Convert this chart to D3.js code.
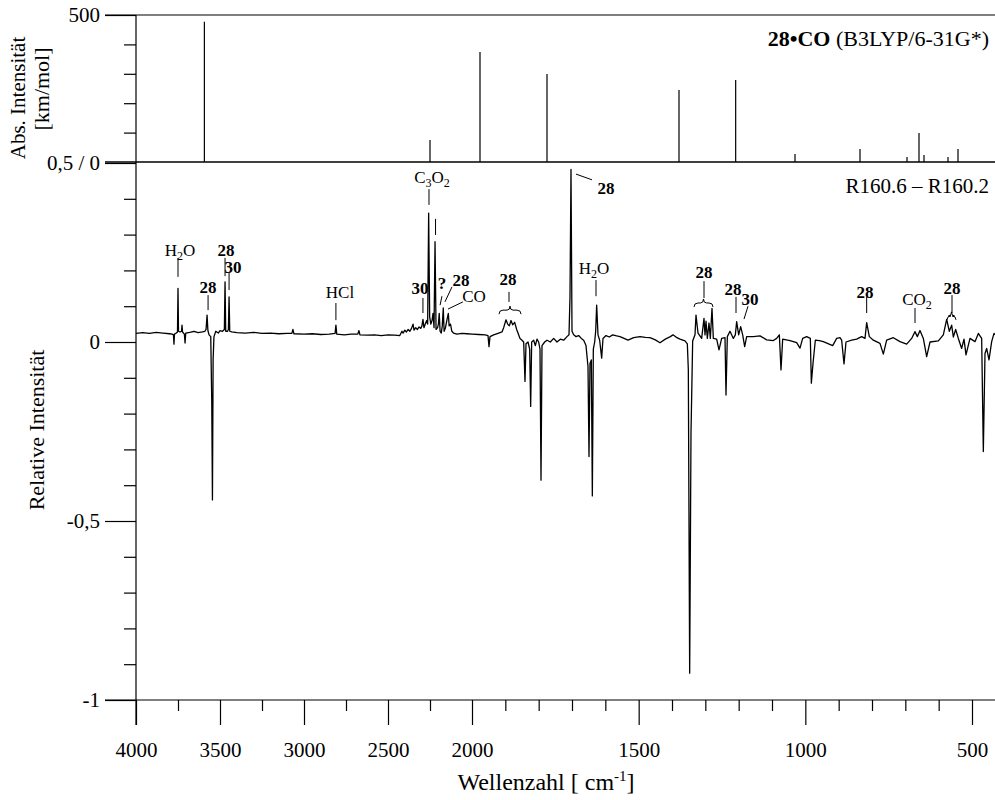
<!DOCTYPE html>
<html>
<head>
<meta charset="utf-8">
<script src="https://cdn.jsdelivr.net/npm/d3@7"></script>
<style>
body { margin: 0; background: #fff; }
svg text { font-family: "Liberation Serif", "DejaVu Serif", "Times New Roman", serif !important; fill: #000; }
</style>
</head>
<body>
<div id="container"></div>
<script>
let w = 995;
let h = 800;

// calculated stick spectrum (upper panel): wavenumber, km/mol
let calcWn  = [3593, 2250, 1976, 1775, 1379, 1209, 1031, 836, 695, 659, 644, 572, 542];
let calcInt = [477, 75, 374, 299, 245, 279, 27, 44, 17, 99, 24, 17, 44];

// difference spectrum (lower panel): [wavenumber, relative intensity]
let diffSpec = [
  [4000, 0.024],[3960, 0.026],[3920, 0.024],[3880, 0.027],[3840, 0.025],[3800, 0.023],[3785, 0.022],
  [3777, 0.02],[3774, -0.006],[3771, 0.022],[3760, 0.025],[3753, 0.028],[3750, 0.15],[3747, 0.03],[3738, 0.028],
  [3729, 0.03],[3726, 0.047],[3723, 0.028],[3712, 0.022],[3708, -0.003],[3704, 0.025],
  [3680, 0.027],[3655, 0.03],[3630, 0.026],[3605, 0.028],[3590, 0.03],[3583, 0.035],[3577, 0.075],[3572, 0.032],[3565, 0.02],
  [3555, 0.015],[3549, -0.17],[3545, -0.441],[3541, -0.05],[3536, 0.015],[3525, 0.03],[3510, 0.025],[3500, 0.032],[3485, 0.03],
  [3474, 0.035],[3470, 0.168],[3466, 0.03],[3455, 0.03],[3450, 0.035],[3446, 0.126],[3442, 0.03],[3430, 0.028],
  [3400, 0.026],[3350, 0.025],[3300, 0.027],[3250, 0.024],[3200, 0.025],[3150, 0.023],[3100, 0.024],[3072, 0.024],[3066, 0.035],[3060, 0.023],
  [3000, 0.022],[2950, 0.023],[2900, 0.021],[2850, 0.022],[2815, 0.024],[2810, 0.047],[2805, 0.022],[2760, 0.02],[2720, 0.022],[2680, 0.022],[2673, 0.032],[2667, 0.02],
  [2620, 0.019],[2580, 0.02],[2540, 0.018],[2500, 0.02],[2460, 0.019],[2430, 0.018],[2417, 0.03],[2410, 0.025],[2400, 0.033],[2390, 0.028],
  [2380, 0.035],[2370, 0.03],[2360, 0.038],[2351, 0.05],[2345, 0.033],[2335, 0.04],[2325, 0.035],[2315, 0.042],[2305, 0.038],[2298, 0.045],
  [2292, 0.063],[2286, 0.04],[2278, 0.05],[2270, 0.06],[2264, 0.05],[2258, 0.36],[2252, 0.07],[2245, 0.05],[2238, 0.06],[2232, 0.08],
  [2226, 0.04],[2220, 0.28],[2214, 0.035],[2205, 0.04],[2200, 0.05],[2195, 0.08],[2190, 0.03],[2183, 0.025],[2177, 0.045],[2171, 0.095],
  [2166, 0.03],[2158, 0.04],[2150, 0.06],[2141, 0.08],[2136, 0.045],[2128, 0.05],[2120, 0.03],[2110, 0.025],[2090, 0.022],[2060, 0.024],
  [2030, 0.023],[2000, 0.022],[1980, 0.021],[1960, 0.02],
  [1952, 0.018],[1949, -0.013],[1946, 0.015],[1935, 0.02],[1920, 0.025],[1910, 0.028],[1905, 0.04],[1898, 0.062],[1893, 0.05],[1888, 0.045],
  [1883, 0.06],[1878, 0.048],[1872, 0.055],[1866, 0.035],[1862, 0.025],[1856, 0.01],[1850, 0.005],[1845, 0.0],[1841, -0.11],[1838, -0.005],
  [1832, 0.0],[1827, -0.02],[1824, -0.18],[1821, 0.0],[1815, 0.005],[1810, -0.01],[1805, 0.008],[1800, 0.0],[1796, -0.02],[1793, -0.386],
  [1790, -0.01],[1782, 0.0],[1775, 0.005],[1765, 0.0],[1755, 0.01],[1745, 0.0],[1735, 0.008],[1725, 0.005],[1715, 0.015],[1709, 0.02],
  [1706, 0.127],[1703, 0.482],[1700, 0.03],[1695, 0.02],[1688, 0.015],[1680, 0.018],[1672, 0.01],[1665, 0.005],[1658, -0.01],[1652, -0.069],
  [1649, -0.32],[1646, -0.06],[1642, -0.05],[1639, -0.43],[1636, -0.02],[1632, 0.0],[1629, 0.03],[1626, 0.103],[1622, 0.02],[1617, 0.005],
  [1611, -0.045],[1607, 0.01],
  [1598, 0.018],[1588, 0.014],[1578, 0.02],[1566, 0.017],[1556, 0.015],[1544, 0.01],[1532, 0.005],[1515, 0.012],[1496, 0.015],[1480, 0.013],
  [1466, 0.012],[1450, 0.006],[1436, -0.002],[1420, 0.008],[1405, 0.015],[1397, 0.02],[1385, 0.012],[1376, 0.008],[1361, 0.003],[1354, -0.005],
  [1351, -0.078],[1347, -0.925],[1343, -0.255],[1338, 0.003],[1331, 0.02],[1328, 0.075],[1322, 0.025],[1311, 0.01],[1304, 0.066],[1301, 0.02],
  [1298, 0.058],[1294, 0.01],[1289, 0.053],[1285, 0.01],[1280, 0.094],[1276, 0.01],[1266, 0.008],[1259, -0.022],[1251, 0.01],[1241, 0.012],
  [1238, -0.148],[1234, 0.015],[1226, 0.03],[1216, 0.01],[1210, 0.02],[1206, 0.057],[1200, 0.02],[1194, 0.043],[1188, 0.02],[1182, -0.013],
  [1176, 0.015],[1156, 0.015],[1136, 0.017],[1116, 0.006],[1096, 0.004],[1086, 0.01],[1078, 0.02],[1073, -0.078],[1068, 0.008],[1046, 0.004],
  [1026, -0.002],[1016, -0.017],[1008, 0.01],[996, 0.015],[985, 0.01],[982, -0.115],[977, -0.06],[970, 0.005],[958, 0.004],[946, 0.001],
  [918, -0.01],[906, 0.01],[896, 0.012],[891, 0.005],[884, -0.061],[878, 0.0],[861, 0.005],[846, 0.008],[831, 0.015],[821, 0.01],
  [816, 0.054],[808, 0.015],[796, 0.005],[776, -0.004],[766, -0.034],[756, 0.005],[736, 0.012],[716, 0.001],[696, -0.006],[681, 0.01],
  [671, 0.029],[664, 0.015],[656, 0.032],[646, 0.01],[636, -0.041],[626, 0.0],[601, 0.003],[586, 0.02],[576, 0.063],[568, 0.03],
  [561, 0.047],[556, 0.014],[549, 0.035],[541, 0.01],[531, -0.018],[524, 0.008],[518, -0.036],[506, 0.01],[491, 0.001],[481, 0.024],
  [471, 0.01],[466, -0.306],[461, -0.032],[456, -0.018],[449, -0.05],[441, 0.001],[434, 0.024],[431, 0.02]
];

// axis ticks
let xMajor = [4000, 3500, 3000, 2500, 2000, 1500, 1000, 500];
let xMinor = [3750, 3250, 2750, 2250, 1900, 1800, 1700, 1600, 1400, 1300, 1200, 1100, 900, 800, 700, 600];
let yBotMajor = [0.5, 0, -0.5, -1];
let yBotMinor = [0.4, 0.3, 0.2, 0.1, -0.1, -0.2, -0.3, -0.4, -0.6, -0.7, -0.8, -0.9];
let yTopMinor = [100, 200, 300, 400];

// band labels: text, text position (wn, value), leader line (wn1, v1, wn2, v2)
let notes = [
  ['H_2O', 3738, 0.257, [3750, 0.235, 3750, 0.182]],
  ['28', 3571, 0.154, [3571, 0.131, 3571, 0.089]],
  ['28', 3464, 0.257, [3470, 0.235, 3470, 0.184]],
  ['30', 3423, 0.209, [3446, 0.193, 3446, 0.145]],
  ['HCl', 2786, 0.14, [2810, 0.109, 2810, 0.061]],
  ['30', 2310, 0.151, [2292, 0.123, 2292, 0.081]],
  ['C_3O_2', 2238, 0.461, [2256, 0.427, 2256, 0.383]],
  ['', 2217, 0.3, [2217, 0.344, 2217, 0.299]],
  ['?', 2179, 0.165, [2190, 0.103, 2179, 0.128]],
  ['28', 2066, 0.173, [2161, 0.112, 2119, 0.154]],
  ['CO', 1994, 0.128, [2143, 0.092, 2054, 0.112]],
  ['28', 1892, 0.176, [1889, 0.14, 1889, 0.112]],
  ['28', 1598, 0.43, [1688, 0.469, 1640, 0.453]],
  ['H_2O', 1634, 0.207, [1628, 0.173, 1628, 0.128]],
  ['28', 1304, 0.196, [1304, 0.17, 1304, 0.123]],
  ['28', 1217, 0.148, [1208, 0.126, 1208, 0.081]],
  ['30', 1166, 0.12, [1184, 0.064, 1172, 0.1]],
  ['28', 821, 0.14, [816, 0.126, 816, 0.081]],
  ['CO_2', 665, 0.12, [671, 0.095, 671, 0.053]],
  ['28', 560, 0.151, [560, 0.131, 560, 0.081]]
];
// braces grouping bands: wn from, wn to, value
let braces = [[1919, 1853, 0.089], [1334, 1277, 0.109], [575, 548, 0.073]];

let serif = '"Liberation Serif", "DejaVu Serif", "Times New Roman", serif';

let viz = d3.select('#container').append('svg')
    .attr('width', w)
    .attr('height', h)
    .style('font-family', serif);

let x = d3.scaleLinear().domain([4000, 2000, 431]).range([136, 472, 995]);
let yTop = d3.scaleLinear().domain([0, 500]).range([162, 15]);
let yBot = d3.scaleLinear().domain([-1, 0.5]).range([700, 163]);

// frame lines
viz.append('line').attr('x1', 105).attr('x2', w).attr('y1', yTop(500)).attr('y2', yTop(500))
    .attr('stroke', '#000').attr('stroke-width', 1.2);
viz.append('line').attr('x1', 105).attr('x2', w).attr('y1', yTop(0)).attr('y2', yTop(0))
    .attr('stroke', '#000').attr('stroke-width', 1.5);
viz.append('line').attr('x1', 105).attr('x2', w).attr('y1', yBot(-1)).attr('y2', yBot(-1))
    .attr('stroke', '#000').attr('stroke-width', 1.2);
viz.append('line').attr('x1', 136).attr('x2', 136).attr('y1', yTop(500)).attr('y2', 725)
    .attr('stroke', '#000').attr('stroke-width', 1.2);

// x axis
let xAx = viz.append('g').attr('transform', 'translate(0,700)')
    .call(d3.axisBottom(x).tickValues(xMajor).tickSize(25).tickPadding(17).tickFormat(d3.format('d')));
let xAxMin = viz.append('g').attr('transform', 'translate(0,700)')
    .call(d3.axisBottom(x).tickValues(xMinor).tickSize(11).tickFormat(''));

// y axes
let yAx = viz.append('g').attr('transform', 'translate(136,0)')
    .call(d3.axisLeft(yBot).tickValues(yBotMajor).tickSize(31).tickPadding(5)
      .tickFormat(d => d === 0.5 ? '0,5 / 0' : String(d).replace('.', ',')));
let yAxMin = viz.append('g').attr('transform', 'translate(136,0)')
    .call(d3.axisLeft(yBot).tickValues(yBotMinor).tickSize(12).tickFormat(''));
let yTopAx = viz.append('g').attr('transform', 'translate(136,0)')
    .call(d3.axisLeft(yTop).tickValues([500]).tickSize(31).tickPadding(5));
let yTopMin = viz.append('g').attr('transform', 'translate(136,0)')
    .call(d3.axisLeft(yTop).tickValues(yTopMinor).tickSize(12).tickFormat(''));

[xAx, xAxMin, yAx, yAxMin, yTopAx, yTopMin].forEach(g => {
  g.attr('font-family', null);
  g.select('.domain').remove();
  g.selectAll('.tick line').attr('stroke', '#000').attr('stroke-width', 1.2);
  g.selectAll('text').attr('fill', '#000')
      .style('font-size', '21px').style('font-family', serif);
});

// stick spectrum
viz.append('g').selectAll('line')
    .data(calcWn)
    .join('line')
    .attr('x1', d => x(d)).attr('x2', d => x(d))
    .attr('y1', yTop(0)).attr('y2', (d, i) => yTop(calcInt[i]))
    .attr('stroke', '#000').attr('stroke-width', 1.2);

// difference spectrum
let line = d3.line().x(d => x(d[0])).y(d => yBot(d[1]));
viz.append('path')
    .datum(diffSpec)
    .attr('d', line)
    .attr('fill', 'none')
    .attr('stroke', '#000')
    .attr('stroke-width', 1.3)
    .attr('stroke-linejoin', 'round');

// helper for labels with subscripts ("_2")
function richText(sel, s) {
  let parts = s.split(/_(\d)/);
  parts.forEach((p, i) => {
    if (p === '') return;
    if (i % 2 === 1) {
      sel.append('tspan').text(p).style('font-size', '12px').attr('dy', 4);
    } else {
      let t = sel.append('tspan').text(p);
      if (i > 0) t.attr('dy', -4);
    }
  });
}

// band labels
let noteG = viz.append('g');
notes.forEach(n => {
  let l = n[3];
  noteG.append('line')
      .attr('x1', x(l[0])).attr('y1', yBot(l[1]))
      .attr('x2', x(l[2])).attr('y2', yBot(l[3]))
      .attr('stroke', '#000').attr('stroke-width', 1);
  if (n[0] === '') return;
  let bold = /^[0-9?]+$/.test(n[0]);
  let t = noteG.append('text')
      .attr('x', x(n[1])).attr('y', yBot(n[2]) + 6)
      .attr('text-anchor', 'middle')
      .style('font-size', '17px')
      .style('font-weight', bold ? 'bold' : 'normal');
  richText(t, n[0]);
});

braces.forEach(b => {
  let x1 = x(b[0]), x2 = x(b[1]), y = yBot(b[2]), m = (x1 + x2) / 2;
  noteG.append('path')
      .attr('d', `M${x1},${y + 4} Q${x1},${y} ${x1 + 4},${y} L${m - 3},${y} Q${m},${y} ${m},${y - 4} Q${m},${y} ${m + 3},${y} L${x2 - 4},${y} Q${x2},${y} ${x2},${y + 4}`)
      .attr('fill', 'none').attr('stroke', '#000').attr('stroke-width', 1);
});

// panel titles
let t1 = viz.append('text')
    .attr('x', 989).attr('y', 46)
    .attr('text-anchor', 'end')
    .style('font-size', '22px');
t1.append('tspan').text('28•CO').style('font-weight', 'bold');
t1.append('tspan').text(' (B3LYP/6-31G*)');

viz.append('text')
    .text('R160.6 – R160.2')
    .attr('x', 989).attr('y', 193)
    .attr('text-anchor', 'end')
    .style('font-size', '21px');

// axis titles
viz.append('text')
    .text('Relative Intensität')
    .attr('transform', 'translate(44,430) rotate(-90)')
    .attr('text-anchor', 'middle')
    .style('font-size', '22px');

viz.append('text')
    .text('Abs. Intensität')
    .attr('transform', 'translate(25,98) rotate(-90)')
    .attr('text-anchor', 'middle')
    .style('font-size', '21px');

viz.append('text')
    .text('[km/mol]')
    .attr('transform', 'translate(49,89) rotate(-90)')
    .attr('text-anchor', 'middle')
    .style('font-size', '22px');

let xt = viz.append('text')
    .attr('x', 546).attr('y', 790)
    .attr('text-anchor', 'middle')
    .style('font-size', '24px');
xt.append('tspan').text('Wellenzahl [ cm');
xt.append('tspan').text('-1').style('font-size', '15px').attr('dy', -9);
xt.append('tspan').text(']').attr('dy', 9);
</script>
</body>
</html>
